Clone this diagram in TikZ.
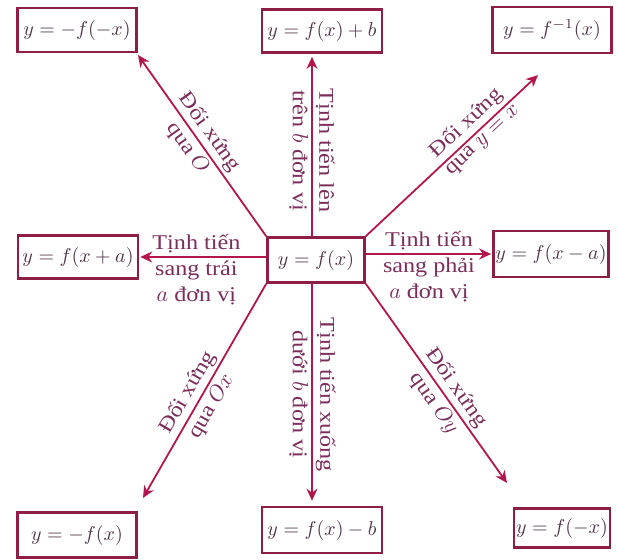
\documentclass[tikz,border=0pt]{standalone}
\usepackage{fontspec}
\setmainfont{Liberation Serif}[FakeStretch=1.15]
\usetikzlibrary{arrows.meta}
\definecolor{boxc}{HTML}{8E1E45}
\definecolor{arrc}{HTML}{B3164C}
\definecolor{txtc}{HTML}{7B2E5A}
\definecolor{mathc}{HTML}{4E3346}
\begin{document}
\begin{tikzpicture}[x=0.5pt,y=-0.5pt,
  fbox/.style={draw=boxc, line width=1.3pt, inner sep=1pt, text=mathc,
    font=\fontsize{10}{12}\selectfont},
  arr/.style={draw=arrc, line width=0.9pt, -{Stealth[length=6pt,width=5.5pt]}},
  lab/.style={text=txtc, font=\fontsize{10.5}{13}\selectfont, inner sep=1.5pt, align=center},
]
\useasboundingbox (0,0) rectangle (617,559);
% boxes
\node[fbox, minimum width=48.5pt, minimum height=22.5pt] (c)  at (316,260) {$y=f(x)$};
\node[fbox, minimum width=59.5pt, minimum height=22pt]   (tl) at (77,30)   {$y=-f(-x)$};
\node[fbox, minimum width=60pt,   minimum height=21.5pt] (tm) at (322,31)  {$y=f(x)+b$};
\node[fbox, minimum width=59.5pt, minimum height=23pt]   (tr) at (552,30)  {$y=f^{-1}(x)$};
\node[fbox, minimum width=60pt,   minimum height=21.5pt] (l)  at (78,257)  {$y=f(x+a)$};
\node[fbox, minimum width=56.5pt, minimum height=23pt]   (r)  at (551,254) {$y=f(x-a)$};
\node[fbox, minimum width=59.5pt, minimum height=22.5pt] (bl) at (77,535)  {$y=-f(x)$};
\node[fbox, minimum width=60pt,   minimum height=23pt]   (bm) at (322,530) {$y=f(x)-b$};
\node[fbox, minimum width=46pt,   minimum height=19.5pt] (br) at (562,528) {$y=f(-x)$};
% helper coordinates
\coordinate (vx) at (312,0);
\coordinate (tltip) at (138,55);
\coordinate (trtip) at (538,75);
\coordinate (bltip) at (143,498);
\coordinate (brtip) at (507,483);
% arrows with labels
\draw[arr] (c.north west) -- (tltip)
  node[lab, pos=0.53, rotate=-54.6, anchor=south] {Đối xứng}
  node[lab, pos=0.53, rotate=-54.6, anchor=north] {qua $O$};
\draw[arr] (c.north east) -- (trtip)
  node[lab, pos=0.64, rotate=43.3, anchor=south] {Đối xứng}
  node[lab, pos=0.64, rotate=43.3, anchor=north] {qua $y=x$};
\draw[arr] (c.south west) -- (bltip)
  node[lab, pos=0.54, rotate=59.9, anchor=south] {Đối xứng}
  node[lab, pos=0.54, rotate=59.9, anchor=north] {qua $Ox$};
\draw[arr] (c.south east) -- (brtip)
  node[lab, pos=0.56, rotate=-54.8, anchor=south] {Đối xứng}
  node[lab, pos=0.56, rotate=-54.8, anchor=north] {qua $Oy$};
\draw[arr, shorten >=1.5pt] (c.north -| vx) -- (tm.south -| vx)
  node[lab, pos=0.47, rotate=-90, anchor=south] {Tịnh tiến lên}
  node[lab, pos=0.47, rotate=-90, anchor=north] {trên $b$ đơn vị};
\draw[arr, shorten >=2.5pt] (c.south -| vx) -- (bm.north -| vx)
  node[lab, pos=0.5, rotate=-90, anchor=south] {Tịnh tiến xuống}
  node[lab, pos=0.5, rotate=-90, anchor=north] {dưới $b$ đơn vị};
\draw[arr, shorten >=0.5pt] (c.west |- l.east) -- (l.east)
  node[lab, pos=0.55, anchor=south] {Tịnh tiến}
  node[lab, pos=0.55, anchor=north] {sang trái\\$a$ đơn vị};
\draw[arr, shorten >=0.5pt] (c.east |- r.west) -- (r.west)
  node[lab, pos=0.5, anchor=south] {Tịnh tiến}
  node[lab, pos=0.5, anchor=north] {sang phải\\$a$ đơn vị};
\end{tikzpicture}
\end{document}
